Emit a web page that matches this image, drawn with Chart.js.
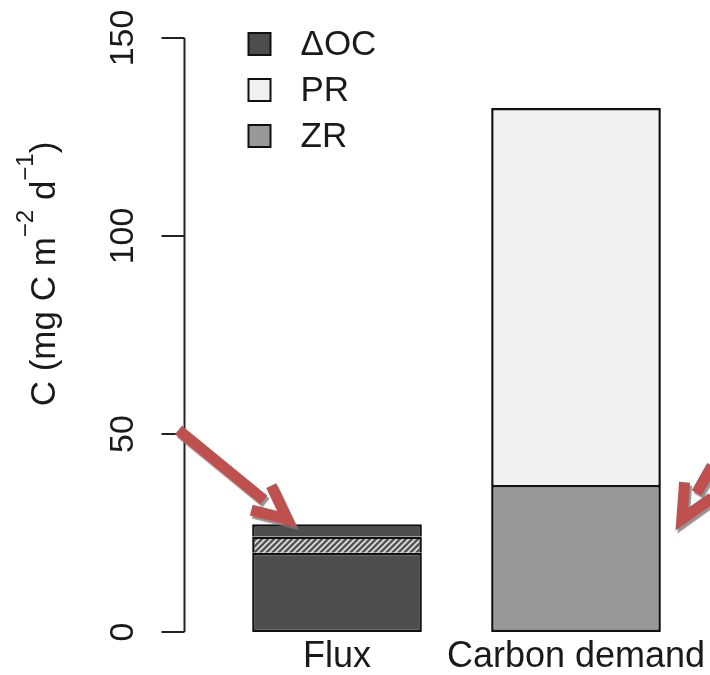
<!DOCTYPE html>
<html>
<head>
<meta charset="utf-8">
<script src="https://cdn.jsdelivr.net/npm/chart.js@4"></script>
<style>
  html, body { margin: 0; padding: 0; background: #fff; }
  canvas { display: block; }
</style>
</head>
<body>
<canvas id="chart" width="710" height="675"></canvas>
<script>
const categories = ['Flux', 'Carbon demand'];
// ΔOC is split in three so the hatched band sits inside the bar
const ocLower = [20.0, null];
const ocBand = [4.1, null];
const ocUpper = [3.1, null];
const zrValues = [null, 37.1];
const prValues = [null, 95.2];
const yTicks = [0, 50, 100, 150];
const legendOrder = ['ΔOC', 'PR', 'ZR'];

const FONT = '"Liberation Sans", Arial, sans-serif';
const INK = '#1a1a1a';
const DARK = '#4d4d4d';
const LIGHT = '#f0f0f0';
const MID = '#999999';
const ARROW_RED = '#c0504d';

function makeHatch() {
    const c = document.createElement('canvas');
    c.width = 6; c.height = 6;
    const g = c.getContext('2d');
    g.fillStyle = '#555555';
    g.fillRect(0, 0, 6, 6);
    g.strokeStyle = '#e4e4e4';
    g.lineWidth = 1.6;
    g.beginPath();
    g.moveTo(0, 6); g.lineTo(6, 0);
    g.moveTo(-3, 3); g.lineTo(3, -3);
    g.moveTo(3, 9); g.lineTo(9, 3);
    g.stroke();
    return g.createPattern(c, 'repeat');
}

// y axis sits left of the plot region, like an R barplot
const leftAxis = {
    id: 'leftAxis',
    afterDraw(chart) {
        const { ctx, chartArea } = chart;
        const y = chart.scales.y;
        const axisX = chartArea.left - 33;
        ctx.save();
        ctx.strokeStyle = '#222';
        ctx.lineWidth = 2;
        ctx.beginPath();
        ctx.moveTo(axisX, y.getPixelForValue(yTicks[0]));
        ctx.lineTo(axisX, y.getPixelForValue(yTicks[yTicks.length - 1]));
        yTicks.forEach(v => {
            const py = y.getPixelForValue(v);
            ctx.moveTo(axisX - 23, py);
            ctx.lineTo(axisX, py);
        });
        ctx.stroke();

        ctx.fillStyle = INK;
        ctx.font = '34px ' + FONT;
        ctx.textAlign = 'center';
        ctx.textBaseline = 'alphabetic';
        yTicks.forEach(v => {
            ctx.save();
            ctx.translate(axisX - 52, y.getPixelForValue(v));
            ctx.rotate(-Math.PI / 2);
            ctx.fillText(String(v), 0, 0);
            ctx.restore();
        });

        // axis title with superscripts
        const parts = [
            { t: 'C (mg C m', sup: false },
            { t: '\u22122', sup: true },
            { t: ' d', sup: false },
            { t: '\u22121', sup: true },
            { t: ')', sup: false }
        ];
        const mainFont = '35px ' + FONT, supFont = '24px ' + FONT;
        let total = 0;
        parts.forEach(p => {
            ctx.font = p.sup ? supFont : mainFont;
            p.w = ctx.measureText(p.t).width;
            total += p.w;
        });
        ctx.translate(55, 274);
        ctx.rotate(-Math.PI / 2);
        ctx.textAlign = 'left';
        let x = -total / 2;
        parts.forEach(p => {
            ctx.font = p.sup ? supFont : mainFont;
            ctx.fillText(p.t, x, p.sup ? -22 : 0);
            x += p.w;
        });
        ctx.restore();
    }
};

const boxLegend = {
    id: 'boxLegend',
    afterDraw(chart) {
        const { ctx, chartArea } = chart;
        const left = chartArea.left + 31;
        ctx.save();
        ctx.font = '35px ' + FONT;
        ctx.textBaseline = 'middle';
        legendOrder.forEach((label, i) => {
            const ds = chart.data.datasets.find(d => d.label === label);
            const cy = chartArea.top + 6 + i * 46;
            ctx.fillStyle = ds.backgroundColor;
            ctx.fillRect(left, cy - 11, 22, 22);
            ctx.strokeStyle = '#111';
            ctx.lineWidth = 2;
            ctx.strokeRect(left, cy - 11, 22, 22);
            ctx.fillStyle = INK;
            ctx.fillText(label, left + 52, cy + 1);
        });
        ctx.restore();
    }
};

function drawArrow(ctx, x0, y0, x1, y1) {
    const ang = Math.atan2(y1 - y0, x1 - x0);
    const back = ang + Math.PI;
    const sx = x1 - Math.cos(ang) * 30, sy = y1 - Math.sin(ang) * 30;
    const arm = 37, spread = 0.44;
    ctx.beginPath();
    ctx.moveTo(x0, y0);
    ctx.lineTo(sx, sy);
    ctx.moveTo(x1 + Math.cos(back - spread) * arm, y1 + Math.sin(back - spread) * arm);
    ctx.lineTo(x1, y1);
    ctx.lineTo(x1 + Math.cos(back + spread) * arm, y1 + Math.sin(back + spread) * arm);
    ctx.stroke();
}

// red call-out arrows pointing at the bars
const callouts = {
    id: 'callouts',
    afterDraw(chart) {
        const { ctx, chartArea } = chart;
        const y = chart.scales.y;
        const flux = chart.getDatasetMeta(0).data[0];
        const demand = chart.getDatasetMeta(3).data[1];
        ctx.save();
        ctx.strokeStyle = ARROW_RED;
        ctx.lineWidth = 11;
        ctx.lineCap = 'butt';
        ctx.lineJoin = 'miter';
        ctx.shadowColor = 'rgba(120,120,120,0.8)';
        ctx.shadowOffsetX = 2;
        ctx.shadowOffsetY = 3;
        ctx.shadowBlur = 1;
        drawArrow(ctx, chartArea.left - 39, y.getPixelForValue(51),
            flux.x - flux.width / 2 + 35, y.getPixelForValue(28.5));
        drawArrow(ctx, chart.width + 2, y.getPixelForValue(42),
            demand.x + demand.width / 2 + 21, y.getPixelForValue(28.5));
        ctx.restore();
    }
};

const hatch = makeHatch();
const base = { borderColor: '#111', borderWidth: 2.5, borderSkipped: false };
const stacked = { borderColor: '#111', borderWidth: 2.5, borderSkipped: 'start' };

new Chart(document.getElementById('chart'), {
    type: 'bar',
    data: {
        labels: categories,
        datasets: [
            { label: 'ΔOC', data: ocLower, backgroundColor: DARK, ...base },
            { label: 'ΔOC band', data: ocBand, backgroundColor: hatch, ...stacked },
            { label: 'ΔOC upper', data: ocUpper, backgroundColor: DARK, ...stacked },
            { label: 'ZR', data: zrValues, backgroundColor: MID, ...base },
            { label: 'PR', data: prValues, backgroundColor: LIGHT, ...stacked }
        ]
    },
    options: {
        responsive: false,
        animation: false,
        devicePixelRatio: 1,
        layout: { padding: { left: 217.5, right: 14.5, top: 38, bottom: 0 } },
        datasets: { bar: { barPercentage: 0.71, categoryPercentage: 1 } },
        plugins: { legend: { display: false }, tooltip: { enabled: false } },
        scales: {
            x: {
                stacked: true,
                grid: { display: false, drawTicks: false },
                border: { display: false },
                ticks: {
                    color: INK,
                    font: { family: FONT, size: 36 },
                    padding: 3,
                    autoSkip: false,
                    maxRotation: 0,
                    minRotation: 0
                },
                // long last label must not push the plot edges in
                afterFit: s => {
                    s.height = 43;
                    s.paddingLeft = 0;
                    s.paddingRight = 0;
                }
            },
            y: {
                stacked: true,
                display: false,
                min: 0,
                max: 150
            }
        }
    },
    plugins: [leftAxis, boxLegend, callouts]
});
</script>
</body>
</html>
